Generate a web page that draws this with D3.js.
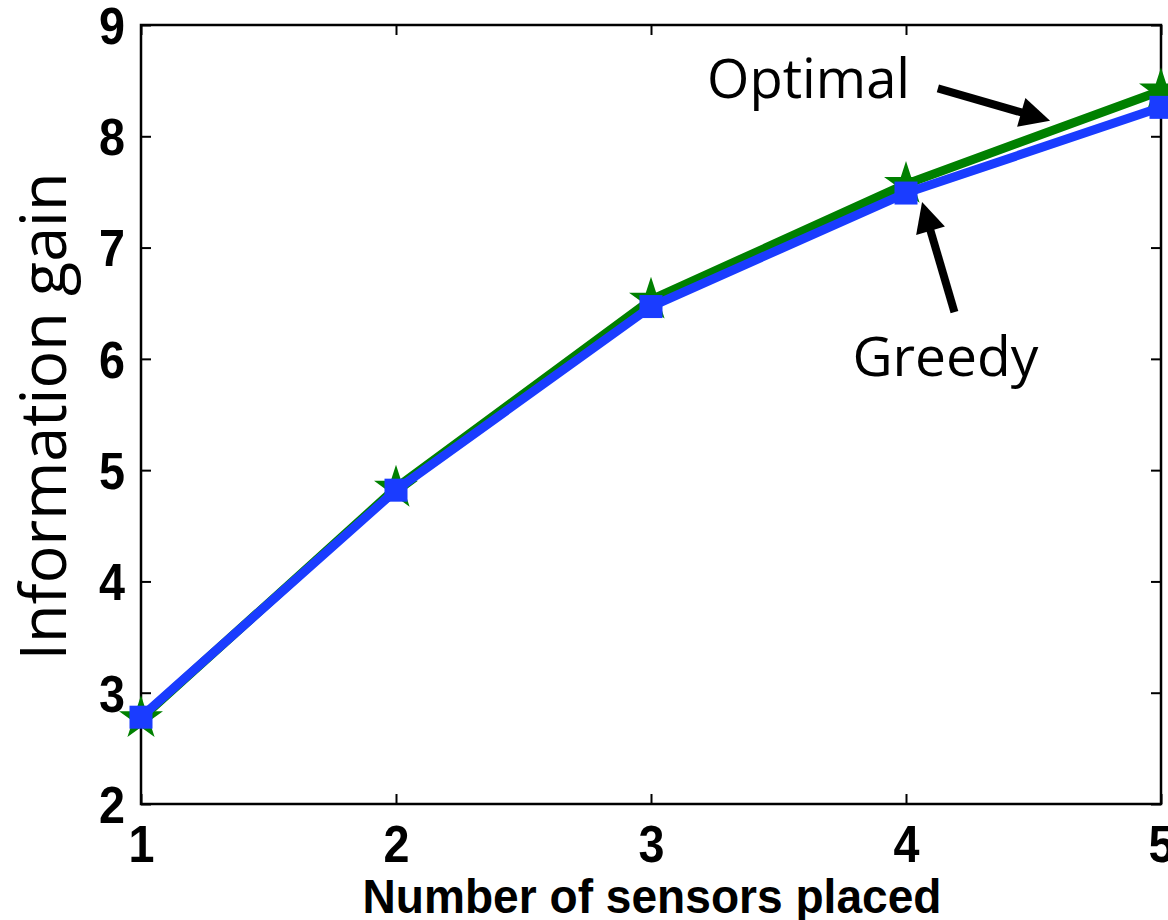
<!DOCTYPE html>
<html>
<head>
<meta charset="utf-8">
<script src="https://cdn.jsdelivr.net/npm/d3@7"></script>
<style>
  html, body { margin: 0; padding: 0; background: #fff; }
  svg { display: block; }
</style>
</head>
<body>
<svg id="chart" width="1168" height="920"></svg>
<script>
// Number of sensors placed (x) and the information gain of each placement strategy
const sensors = [1, 2, 3, 4, 5];
const optimalGain = [2.77, 4.84, 6.53, 7.57, 8.41];
const greedyGain = [2.78, 4.82, 6.47, 7.49, 8.26];
const xTicks = [1, 2, 3, 4, 5];
const yTicks = [2, 3, 4, 5, 6, 7, 8, 9];

// Callout texts and their arrows, in data units
const calloutLabels = [
  { text: "Optimal", x: 3.22, y: 8.34, width: 203 },
  { text: "Greedy", x: 3.79, y: 5.85, width: 186 }
];
const calloutArrows = [
  { x0: 4.125, y0: 8.43, x1: 4.565, y1: 8.14 },
  { x0: 4.19, y0: 6.42, x1: 4.063, y1: 7.41 }
];

const W = 1168, H = 920;
const margin = { left: 141, top: 25, right: 7, bottom: 116 };
const svg = d3.select("#chart");

const x = d3.scaleLinear().domain([1, 5]).range([margin.left, W - margin.right]);
const y = d3.scaleLinear().domain([2, 9]).range([H - margin.bottom, margin.top]);

const tickFont = "'Liberation Sans', Arial, Helvetica, sans-serif";
const calloutFont = "'Open Sans', 'Noto Sans', sans-serif";

// Axes with inward ticks on all four sides (boxed frame)
const tickLen = 10;
const axisBottom = svg.append("g")
  .attr("transform", `translate(0,${y(2)})`)
  .call(d3.axisBottom(x).tickValues(xTicks).tickSizeInner(-tickLen).tickSizeOuter(0).tickPadding(22).tickFormat(d3.format("d")));
const axisTop = svg.append("g")
  .attr("transform", `translate(0,${y(9)})`)
  .call(d3.axisTop(x).tickValues(xTicks).tickSizeInner(-tickLen).tickSizeOuter(0).tickFormat(""));
const axisLeft = svg.append("g")
  .attr("transform", `translate(${x(1)},0)`)
  .call(d3.axisLeft(y).tickValues(yTicks).tickSizeInner(-tickLen).tickSizeOuter(0).tickPadding(16).tickFormat(d3.format("d")));
const axisRight = svg.append("g")
  .attr("transform", `translate(${x(5)},0)`)
  .call(d3.axisRight(y).tickValues(yTicks).tickSizeInner(-tickLen).tickSizeOuter(0).tickFormat(""));

[axisBottom, axisTop, axisLeft, axisRight].forEach(g => {
  g.select(".domain").remove();
  g.selectAll(".tick line").attr("stroke", "#000").attr("stroke-width", 2);
});

[axisBottom, axisLeft].forEach(g => {
  g.selectAll(".tick text")
    .attr("fill", "#000")
    .attr("textLength", 26)
    .attr("lengthAdjust", "spacingAndGlyphs")
    .style("font-family", tickFont)
    .style("font-weight", "bold")
    .style("font-size", "51px");
});
axisBottom.selectAll(".tick text").attr("dy", "0.71em");
axisLeft.selectAll(".tick text").attr("dy", "0.36em");

// Frame
svg.append("rect")
  .attr("x", x(1)).attr("y", y(9))
  .attr("width", x(5) - x(1)).attr("height", y(2) - y(9))
  .attr("fill", "none").attr("stroke", "#000").attr("stroke-width", 2.5);

// Axis titles
svg.append("text")
  .attr("x", (x(1) + x(5)) / 2 + 1)
  .attr("y", 913)
  .attr("text-anchor", "middle")
  .attr("textLength", 579)
  .attr("lengthAdjust", "spacingAndGlyphs")
  .style("font-family", tickFont)
  .style("font-weight", "bold")
  .style("font-size", "49px")
  .text("Number of sensors placed");

svg.append("text")
  .attr("transform", `translate(66,${(y(2) + y(9)) / 2 + 2}) rotate(-90)`)
  .attr("text-anchor", "middle")
  .attr("textLength", 488)
  .attr("lengthAdjust", "spacingAndGlyphs")
  .style("font-family", calloutFont)
  .style("font-size", "64px")
  .text("Information gain");

// Series
const line = d3.line().x((d, i) => x(sensors[i])).y(d => y(d));
const green = "#008000";
const blue = "#1a3cff";

svg.append("path")
  .datum(optimalGain)
  .attr("d", line)
  .attr("fill", "none").attr("stroke", green).attr("stroke-width", 9)
  .attr("stroke-linejoin", "round");

const star = d3.symbol().type(d3.symbolStar).size(600);
svg.append("g").selectAll("path")
  .data(optimalGain)
  .join("path")
  .attr("transform", (d, i) => `translate(${x(sensors[i])},${y(d)})`)
  .attr("d", star)
  .attr("fill", green);

svg.append("path")
  .datum(greedyGain)
  .attr("d", line)
  .attr("fill", "none").attr("stroke", blue).attr("stroke-width", 9)
  .attr("stroke-linejoin", "round");

const sq = 23;
svg.append("g").selectAll("rect")
  .data(greedyGain)
  .join("rect")
  .attr("x", (d, i) => x(sensors[i]) - sq / 2)
  .attr("y", d => y(d) - sq / 2)
  .attr("width", sq).attr("height", sq)
  .attr("fill", blue);

// Callouts
svg.append("g").selectAll("text")
  .data(calloutLabels)
  .join("text")
  .attr("x", d => x(d.x))
  .attr("y", d => y(d.y))
  .attr("textLength", d => d.width)
  .attr("lengthAdjust", "spacingAndGlyphs")
  .style("font-family", calloutFont)
  .style("font-size", "54px")
  .attr("fill", "#000")
  .text(d => d.text);

const headLen = 30, headHalf = 15;
const arrows = svg.append("g");
calloutArrows.forEach(a => {
  const px0 = x(a.x0), py0 = y(a.y0), px1 = x(a.x1), py1 = y(a.y1);
  const dx = px1 - px0, dy = py1 - py0;
  const len = Math.hypot(dx, dy);
  const ux = dx / len, uy = dy / len;
  const bx = px1 - ux * headLen, by = py1 - uy * headLen;
  arrows.append("line")
    .attr("x1", px0).attr("y1", py0)
    .attr("x2", bx + ux * 2).attr("y2", by + uy * 2)
    .attr("stroke", "#000").attr("stroke-width", 8);
  arrows.append("path")
    .attr("d", `M${px1},${py1}L${bx - uy * headHalf},${by + ux * headHalf}L${bx + uy * headHalf},${by - ux * headHalf}Z`)
    .attr("fill", "#000");
});
</script>
</body>
</html>
